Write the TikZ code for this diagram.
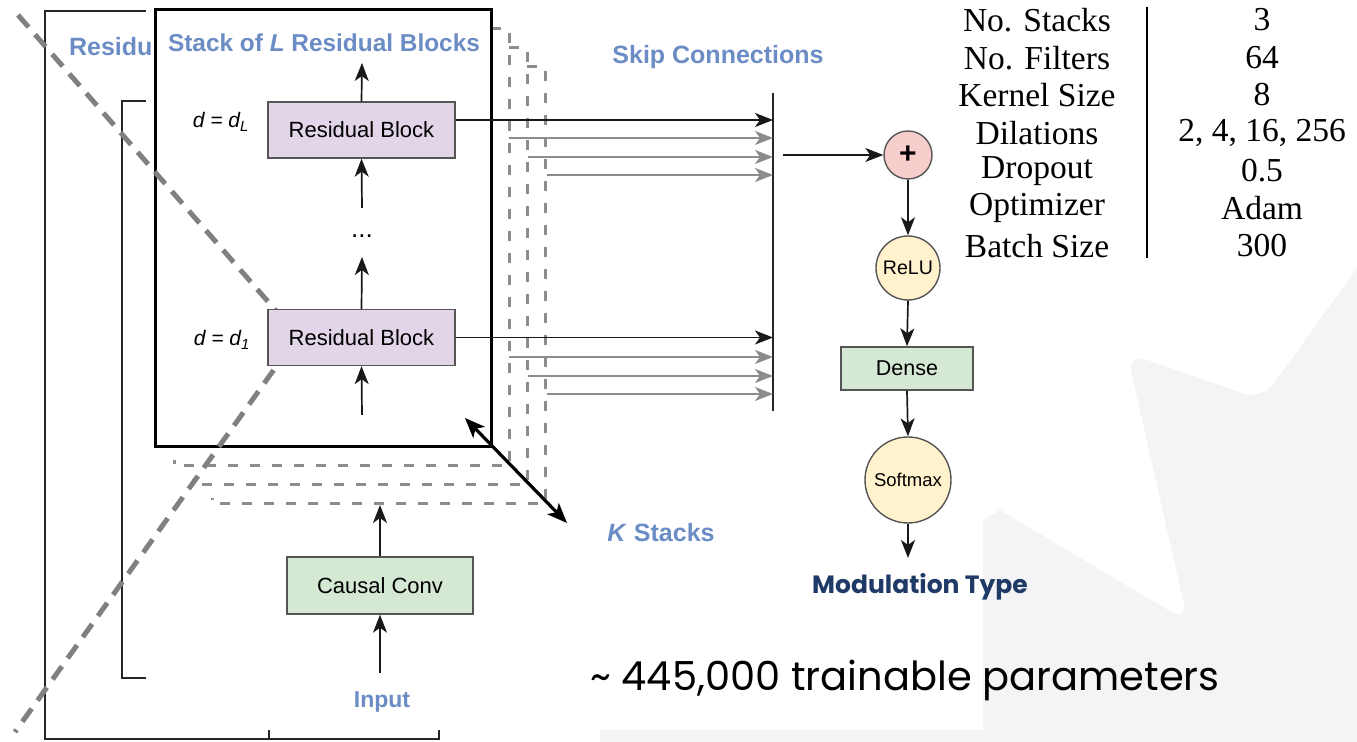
\documentclass[tikz,border=0pt]{standalone}
\usepackage{fontspec}
\setmainfont{Liberation Sans}
\newfontfamily\tablefont{Liberation Serif}
\newfontfamily\geofont{Poppins}
\usetikzlibrary{arrows.meta,calc}
\definecolor{lbl}{HTML}{6B8CC4}
\definecolor{navy}{HTML}{1F3A66}
\definecolor{rbfill}{HTML}{E1D5E7}
\definecolor{grfill}{HTML}{D5E8D4}
\definecolor{ylfill}{HTML}{FFF2CC}
\definecolor{pkfill}{HTML}{F8CECC}
\definecolor{bord}{HTML}{555555}
\definecolor{dgrey}{HTML}{8C8C8C}
\definecolor{chevgrey}{HTML}{808080}
\definecolor{bggrey}{HTML}{F4F4F6}
\begin{document}
\begin{tikzpicture}[x=0.5pt,y=-0.5pt,
  rblock/.style={draw=bord, fill=rbfill, line width=0.7pt, minimum width=93.5pt, minimum height=28pt, inner sep=0pt, font=\fontsize{11}{12}\selectfont},
  gblock/.style={draw=bord, fill=grfill, line width=0.7pt, inner sep=0pt},
  circ/.style={circle, draw=bord, line width=0.7pt, inner sep=0pt},
  arr/.style={-{Stealth[length=9pt,width=7pt,inset=2.5pt]}, line width=0.85pt, draw=black!90},
  garr/.style={-{Stealth[length=9pt,width=7pt,inset=2.5pt]}, line width=0.8pt, draw=dgrey},
  lbltext/.style={text=lbl, font=\bfseries\fontsize{12.5}{14}\selectfont},
  stackdash/.style={draw=dgrey, line width=1.5pt, dash pattern=on 5pt off 6pt},
  chev/.style={draw=chevgrey, line width=2.5pt, dash pattern=on 8pt off 5pt},
  bracket/.style={draw=black!85, line width=1pt},
  tcell/.style={font=\tablefont\fontsize{16.75}{18}\selectfont, inner sep=0pt}
]
\useasboundingbox (0,0) rectangle (1357,742);
% slide background
\fill[bggrey] (1357,268) [rounded corners=10pt] -- (1262,400) -- (1127,353) -- (1188,622) [sharp corners] -- (1000,510) -- (983,520) -- (983,730) -- (600,730) -- (600,742) -- (1357,742) -- cycle;

% outer bracket
\coordinate (obTL) at (146,11);
\coordinate (obT) at (45,11);
\coordinate (obB) at (45,739);
\coordinate (obR) at (439,739);
\coordinate (obRt) at (439,730);
\coordinate (obM) at (269,739);
\coordinate (obMt) at (269,730);
\draw[bracket] (obTL) -- (obT) -- (obB) -- (obR) -- (obRt);
\draw[bracket] (obM) -- (obMt);
% inner bracket
\coordinate (ibT) at (146,101);
\coordinate (ibTL) at (122,101);
\coordinate (ibBL) at (122,678);
\coordinate (ibB) at (146,678);
\draw[black!85, line width=0.8pt] (ibT) -- (ibTL) -- (ibBL) -- (ibB);

\node[lbltext, anchor=west] (residu) at (62,47) {Residu};

% stacked copies (dashed)
\foreach \k in {3,2,1}{
  \pgfmathsetmacro{\L}{155+19*\k}
  \pgfmathsetmacro{\T}{10+19*\k}
  \pgfmathsetmacro{\R}{491+18*\k}
  \pgfmathsetmacro{\B}{447+19*\k}
  \draw[stackdash] (\R-18,\T) -- (\R,\T) -- (\R,\B) -- (\L,\B) -- (\L,\B-6);
}

% main stack box
\node[draw=black, line width=1.5pt, fill=white, minimum width=168pt, minimum height=218.5pt, inner sep=0pt] (stackbox) at (323,228.5) {};

% chevron dashed overlay
\coordinate (chA) at (18,15);
\coordinate (chV) at (298,336);
\coordinate (chB) at (15,732);
\draw[chev] (chA) -- (chV) -- (chB);

\node[lbltext, font=\bfseries\fontsize{12.2}{14}\selectfont] (title) at (324,43) {Stack of \textit{L} Residual Blocks};

% residual blocks
\node[rblock] (RBu) at (361.5,130) {Residual Block};
\node[rblock] (RBl) at (361.5,337.5) {Residual Block};
\node[font=\itshape\fontsize{10.5}{12}\selectfont] (dL) at (221,122) {d = d\textsubscript{L}};
\node[font=\itshape\fontsize{10.5}{12}\selectfont] (d1) at (222,340) {d = d\textsubscript{1}};
\node[font=\fontsize{13}{14}\selectfont] (dots) at (362,236) {...};

\coordinate (upTop) at (362,63);
\coordinate (upIn) at (362,208);
\coordinate (loTop) at (362,257);
\coordinate (loIn) at (362,415);
\draw[arr] (RBu.north) -- (upTop);
\draw[arr] (upIn) -- (RBu.south);
\draw[arr] (RBl.north) -- (loTop);
\draw[arr] (loIn) -- (RBl.south);

% skip connections
\coordinate (skT) at (773,93);
\coordinate (skB) at (773,411);
\draw[black!85, line width=0.8pt] (skT) -- (skB);
\node[lbltext] (skiplbl) at (718,57) {Skip Connections};

\coordinate (uS0) at ($(RBu.east)+(0,-10)$);
\coordinate (uE0) at (773,120);
\foreach \i/\x/\y in {1/509/138,2/528/157,3/547/175}{
  \coordinate (uS\i) at (\x,\y);
  \coordinate (uE\i) at (773,\y);
  \draw[garr] (uS\i) -- (uE\i);
}
\draw[arr] (uS0) -- (uE0);
\coordinate (lS0) at (RBl.east);
\coordinate (lE0) at (773,337.5);
\foreach \i/\x/\y in {1/509/357,2/528/376,3/547/394}{
  \coordinate (lS\i) at (\x,\y);
  \coordinate (lE\i) at (773,\y);
  \draw[garr] (lS\i) -- (lE\i);
}
\draw[arr] (lS0) -- (lE0);

% K stacks arrow
\coordinate (kA) at (465,418);
\coordinate (kB) at (567,523);
\draw[{Stealth[length=10pt,width=8pt,inset=2.5pt]}-{Stealth[length=10pt,width=8pt,inset=2.5pt]}, line width=1.6pt] (kA) -- (kB);
\node[lbltext] (klbl) at (661,533) {\textit{K} Stacks};

% input path
\node[gblock, minimum width=93pt, minimum height=28.5pt, font=\fontsize{11}{12}\selectfont] (causal) at (380,585.5) {Causal Conv};
\coordinate (cTop) at (380,505);
\coordinate (cIn) at (380,673);
\draw[arr] (causal.north) -- (cTop);
\draw[arr] (cIn) -- (causal.south);
\node[lbltext, font=\bfseries\fontsize{11.5}{13}\selectfont] (input) at (382,702) {Input};

% output head
\node[circ, fill=pkfill, minimum size=24pt, font=\bfseries\fontsize{15}{15}\selectfont] (plus) at (908,155) {+};
\coordinate (sumIn) at (783,155);
\draw[arr] (sumIn) -- (plus.west);
\node[circ, fill=ylfill, minimum size=32pt, font=\fontsize{9.8}{11}\selectfont] (relu) at (908,268) {ReLU};
\node[gblock, minimum width=66pt, minimum height=21.5pt, font=\fontsize{10.75}{12}\selectfont] (dense) at (907,368.5) {Dense};
\node[circ, fill=ylfill, minimum size=43pt, font=\fontsize{9.25}{11}\selectfont] (soft) at (908,480) {Softmax};
\coordinate (outEnd) at (908,558);
\draw[arr] (plus.south) -- (relu.north);
\draw[arr] (relu.south) -- (dense.north);
\draw[arr] (dense.south) -- (soft.north);
\draw[arr] (soft.south) -- (outEnd);
\node[text=navy, font=\geofont\bfseries\fontsize{12.5}{14}\selectfont] (modtype) at (920,587) {Modulation Type};

% hyperparameter table
\foreach \n/\a/\b/\y in {1/No. Stacks/3/20, 2/No. Filters/64/58, 3/Kernel Size/8/95, 4/Dilations/{2, 4, 16, 256}/133, 5/Dropout/0.5/171, 6/Optimizer/Adam/208, 7/Batch Size/300/246}{
  \node[tcell] (tl\n) at (1037,\y) {\a};
  \node[tcell] (tr\n) at (1262,\y) {\b};
}
\coordinate (barT) at (1147,7);
\coordinate (barB) at (1147,258);
\draw[line width=0.8pt] (barT) -- (barB);

% parameter count
\node[font=\geofont\fontsize{20}{24}\selectfont] (params) at (905,680) {\textasciitilde{} 445,000 trainable parameters};
\end{tikzpicture}
\end{document}
